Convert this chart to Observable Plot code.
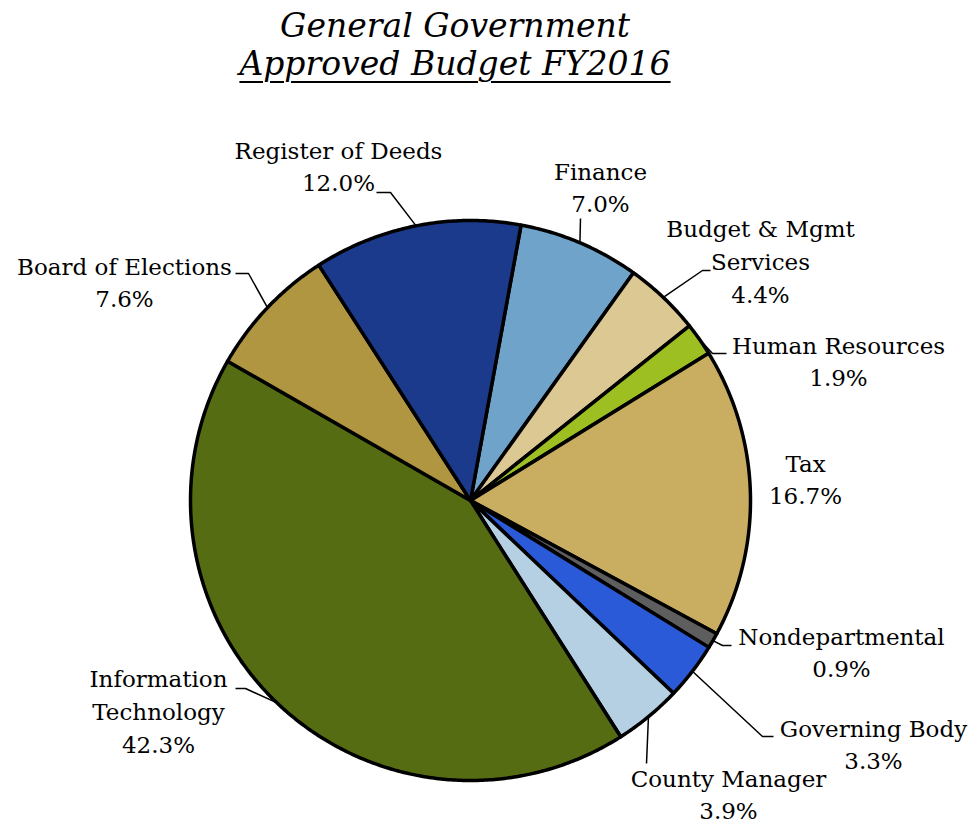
<!DOCTYPE html>
<html>
<head>
<meta charset="utf-8">
<script src="https://cdn.jsdelivr.net/npm/d3@7"></script>
<script src="https://cdn.jsdelivr.net/npm/@observablehq/plot@0.6"></script>
<style>
  html, body { margin: 0; padding: 0; background: #fff; }
  #wrap { position: relative; width: 974px; height: 826px; overflow: hidden; }
  #title { position: relative; height: 100px; }
  .t { position: absolute; left: 455px; transform: translateX(-50%); white-space: nowrap;
       font-family: "DejaVu Serif", serif; font-style: italic; font-size: 33px; line-height: 38px; color: #000; }
  #t1 { top: 7px; }
  #t2 { top: 45px; text-decoration: underline; text-decoration-thickness: 2px; text-underline-offset: 6px; }
  #chart svg { display: block; overflow: visible; }
</style>
</head>
<body>
<div id="wrap">
  <div id="title">
    <div class="t" id="t1">General Government</div>
    <div class="t" id="t2">Approved Budget FY2016</div>
  </div>
  <div id="chart"></div>
</div>
<script>
// ---- data ----
const categories = ["Finance", "Budget & Mgmt Services", "Human Resources", "Tax", "Nondepartmental",
  "Governing Body", "County Manager", "Information Technology", "Board of Elections", "Register of Deeds"];
const values = [7.0, 4.4, 1.9, 16.7, 0.9, 3.3, 3.9, 42.3, 7.6, 12.0];
const labelNames = ["Finance", "Budget & Mgmt\nServices", "Human Resources", "Tax", "Nondepartmental",
  "Governing Body", "County Manager", "Information\nTechnology", "Board of Elections", "Register of Deeds"];
const colors = ["#6fa3ca", "#dcc893", "#9dbf22", "#c9ae62", "#5e5e5e",
  "#2a5ad8", "#b5cfe3", "#566c12", "#b09640", "#1c3a8b"];

// ---- layout (pixels relative to pie centre) ----
const R = 280;
const startDeg = 10.4;
const labelPos = [[130, -315], [290, -241], [368, -141], [335, -23], [371, 150],
  [403, 242], [258, 292], [-312, 209], [-346, -220], [-132, -336]];
const leaderPts = [
  [[110, -282]],
  [[240, -230], [232, -230]],
  [[256, -147], [242, -147]],
  null,
  [[261, 145], [252, 145]],
  [[303, 236], [292, 236]],
  [[176, 263]],
  [[-235, 188], [-225, 188]],
  [[-235, -227], [-222, -227]],
  [[-94, -308], [-80, -308]]
];

const total = d3.sum(values);
const slices = [];
const leaders = [];
const labels = [];
let cum = 0;
categories.forEach((name, i) => {
  const a0 = startDeg + cum / total * 360;
  const a1 = startDeg + (cum + values[i]) / total * 360;
  const mid = (a0 + a1) / 2;
  cum += values[i];
  const pt = (deg, r) => ({name, x: r * Math.sin(deg * Math.PI / 180), y: -r * Math.cos(deg * Math.PI / 180)});
  slices.push({name, x: 0, y: 0});
  const n = Math.max(2, Math.ceil((a1 - a0) / 0.5));
  for (let k = 0; k <= n; k++) slices.push(pt(a0 + (a1 - a0) * k / n, R));
  slices.push({name, x: 0, y: 0});
  if (leaderPts[i]) {
    leaderPts[i].forEach(p => leaders.push({name, x: p[0], y: p[1]}));
    leaders.push(pt(mid, R));
  }
  labels.push({name, x: labelPos[i][0], y: labelPos[i][1], text: labelNames[i] + "\n" + values[i].toFixed(1) + "%"});
});

const chart = Plot.plot({
  width: 974,
  height: 726,
  margin: 0,
  x: {domain: [-470, 504], axis: null},
  y: {domain: [-400, 326], reverse: true, axis: null},
  color: {domain: categories, range: colors},
  style: {background: "#fff", overflow: "visible"},
  marks: [
    Plot.line(slices, {x: "x", y: "y", z: "name", fill: "name", stroke: "#000", strokeWidth: 3.5, strokeLinejoin: "round", curve: "linear"}),
    Plot.line(leaders, {x: "x", y: "y", z: "name", stroke: "#000", strokeWidth: 1.5, strokeLinejoin: "miter", strokeLinecap: "butt"}),
    Plot.text(labels, {x: "x", y: "y", text: "text", fontSize: 23, fontFamily: "DejaVu Serif, serif", lineHeight: 1.43, fill: "#000", textAnchor: "middle"})
  ]
});
document.getElementById("chart").appendChild(chart);
</script>
</body>
</html>
